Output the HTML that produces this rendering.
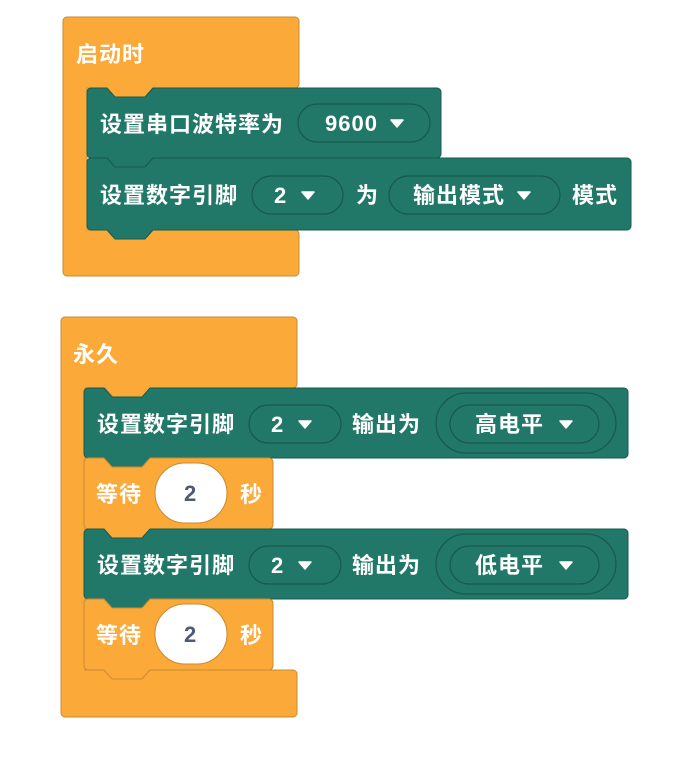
<!DOCTYPE html>
<html><head><meta charset="utf-8"><style>
html,body{margin:0;padding:0;background:#fff;width:684px;height:757px;overflow:hidden}
svg text{font-family:"Liberation Sans","Noto Sans CJK SC",sans-serif;font-weight:bold;font-size:22px;fill:#fff;letter-spacing:1px}
</style></head><body>
<svg id="s" width="684" height="757" xmlns="http://www.w3.org/2000/svg"></svg>
<script>
const s=document.getElementById('s');let h='';
const OR='#FBA939',ORB='#C98A34',TE='#217868',TEB='#195a4e',PB='#18584c';
function stmt(x,y,w,H,f,b){h+=`<path d="M${x},${y+4} a4,4 0 0 1 4,-4 h16 l8,9 h30 l8,-9 h${w-70} a4,4 0 0 1 4,4 v${H-8} a4,4 0 0 1 -4,4 h-${w-70} l-8,9 h-30 l-8,-9 h-16 a4,4 0 0 1 -4,-4 z" fill="${f}" stroke="${b}" stroke-width="1"/>`;}
function cblk(x,y,w,H1,yb,y2){const ix=x+24;h+=`<path d="M${x},${y+4} a4,4 0 0 1 4,-4 H${x+w-4} a4,4 0 0 1 4,4 V${y+H1-4} a4,4 0 0 1 -4,4 H${ix+66} l-8,9 h-30 l-8,-9 H${ix} V${yb} H${x+w-4} a4,4 0 0 1 4,4 V${y2-4} a4,4 0 0 1 -4,4 H${x+4} a4,4 0 0 1 -4,-4 z" fill="${OR}" stroke="${ORB}" stroke-width="1"/>`;}
function t(x,y,str,c){h+=`<text x="${x}" y="${y}"${c?` style="fill:${c}"`:''}>${str}</text>`;}
function pill(x,y,w,str,tx,ax){h+=`<rect x="${x}" y="${y}" width="${w}" height="38" rx="19" fill="${TE}" stroke="${PB}" stroke-width="1.2"/>`;t(tx,y+27,str);h+=`<path d="M${ax},${y+16} h12 l-6,7 z" fill="#fff" stroke="#fff" stroke-width="1.5" stroke-linejoin="round"/>`;}
function oval(x,y,str){h+=`<rect x="${x}" y="${y}" width="72" height="60" rx="30" fill="#fff" stroke="#C98A34" stroke-width="1"/>`;t(x+29,y+38,str,'#4F5A78');}
cblk(63,17,236,71,230,276);
t(76,62,'启动时');
stmt(87,88,354,70,TE,TEB);
t(100,132,'设置串口波特率为');pill(298,104,132,'9600',325,391);
stmt(87,158,544,72,TE,TEB);
t(100,203,'设置数字引脚');pill(252,176,91,'2',274,302);t(356,203,'为');pill(389,176,171,'输出模式',413,518);t(572,203,'模式');
cblk(61,317,236,71,670,717);
t(73,362,'永久');
function setpin(y,lv){stmt(84,y,544,70,TE,TEB);t(97,y+44,'设置数字引脚');pill(249,y+17,92,'2',271,299);t(352,y+44,'输出为');
h+=`<rect x="436" y="${y+5}" width="180" height="60" rx="30" fill="${TE}" stroke="${PB}" stroke-width="1.2"/>`;pill(450,y+17,149,lv,475,560);}
function wait(y){stmt(84,y,189,71,OR,ORB);t(96,y+44,'等待');oval(155,y+5,'2');t(240,y+44,'秒');}
setpin(388,'高电平');wait(458);setpin(529,'低电平');wait(599);
s.innerHTML=h;
</script>
</body></html>
